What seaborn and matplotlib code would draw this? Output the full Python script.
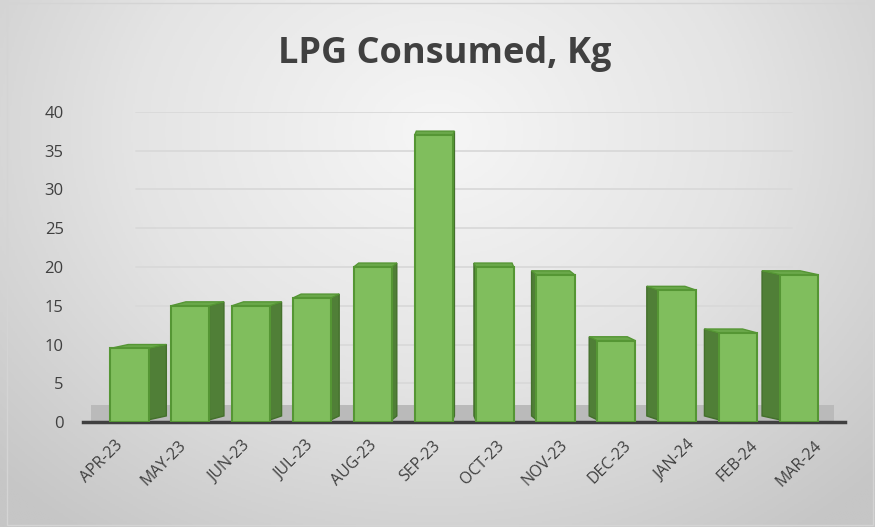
import numpy as np
import pandas as pd
import matplotlib
matplotlib.use("Agg")
import matplotlib.pyplot as plt
from matplotlib.patches import Polygon
from matplotlib.colors import LinearSegmentedColormap
import seaborn as sns

# data
months = ["APR-23", "MAY-23", "JUN-23", "JUL-23", "AUG-23", "SEP-23",
          "OCT-23", "NOV-23", "DEC-23", "JAN-24", "FEB-24", "MAR-24"]
lpg_kg = [9.5, 15, 15, 16, 20, 37, 20, 19, 10.5, 17, 11.5, 19]
y_ticks = [0, 5, 10, 15, 20, 25, 30, 35, 40]

df = pd.DataFrame({"Month": months, "LPG": lpg_kg})

sns.set_theme(style="white")
plt.rcParams["font.family"] = ["Open Sans", "DejaVu Sans"]

fig = plt.figure(figsize=(8.75, 5.27), dpi=100)

# radial grey background like the Excel chart area
bg = fig.add_axes([0, 0, 1, 1], zorder=-10)
yy, xx = np.mgrid[0:1:300j, 0:1:500j]
r = np.sqrt(((xx - 0.5) / 0.7) ** 2 + ((yy - 0.25) / 0.95) ** 2)
grey = LinearSegmentedColormap.from_list("bg", ["#f6f6f6", "#e4e4e4", "#c6c6c6"])
bg.imshow(np.clip(r, 0, 1), cmap=grey, vmin=0, vmax=1,
          extent=[0, 1, 0, 1], aspect="auto", origin="upper")
bg.set_axis_off()
fig.patches.append(plt.Rectangle((0.008, 0.004), 0.99, 0.99, transform=fig.transFigure,
                                 fill=False, edgecolor="#d4d4d4", lw=1))

ax = fig.add_axes([0.095, 0.199, 0.871, 0.589])
ax.patch.set_alpha(0)

sns.barplot(data=df, x="Month", y="LPG", ax=ax, color="#80be5d",
            width=0.6, edgecolor="#559634", linewidth=1.5, saturation=1, zorder=3)
bars = list(ax.containers[0])

# floor of the 3D plot
ax.axhspan(0.2, 2.2, xmin=0.01, xmax=0.985, color="#bababa", zorder=0.5, lw=0)

# perspective: outer bars drift toward the middle, with darker side and top faces
n = len(months)
for i, p in enumerate(bars):
    k = (n / 2 - 0.5 - i) / (n / 2 - 0.5)
    p.set_x(p.get_x() + 0.23 * k)
    x0, w, h = p.get_x(), p.get_width(), p.get_height()
    dx = 0.28 * k
    dy = 0.5
    edge = x0 + w if dx > 0 else x0
    side = Polygon([(edge, 0.3), (edge, h), (edge + dx, h + dy), (edge + dx, 0.3 + dy)],
                   closed=True, facecolor="#507f37", edgecolor="#44702c", lw=1, zorder=2.5)
    ax.add_patch(side)
    top = Polygon([(x0, h), (x0 + w, h), (x0 + w + dx, h + dy), (x0 + dx, h + dy)],
                  closed=True, facecolor="#6aa84a", edgecolor="#559634", lw=1, zorder=2.6)
    ax.add_patch(top)

ax.set_ylim(0, 40)
ax.set_xlim(-0.5, n - 0.5)
ax.set_yticks(y_ticks)
ax.yaxis.grid(False)
for t in y_ticks[1:]:
    ax.axhline(t, xmin=0.07, xmax=0.93, color="#d9d9d9", lw=1.3, zorder=1)
for s in ["top", "right", "left"]:
    ax.spines[s].set_visible(False)
ax.spines["bottom"].set_color("#404040")
ax.spines["bottom"].set_linewidth(2.5)

ax.set_xlabel("")
ax.set_ylabel("")
ax.tick_params(axis="y", length=0, labelsize=12, labelcolor="#404040", pad=14)
ax.tick_params(axis="x", which="major", length=0, labelsize=11.5, labelcolor="#404040", pad=11)
ax.set_xticks(np.arange(-0.5, n, 1.0), minor=True)
ax.tick_params(axis="x", which="minor", length=7, width=2.5, color="#404040", direction="out")
for lbl in ax.get_xticklabels():
    lbl.set_rotation(45)
    lbl.set_ha("right")
    lbl.set_rotation_mode("anchor")

fig.text(0.508, 0.880, "LPG Consumed, Kg", ha="center", va="baseline",
         fontsize=26, fontweight="bold", color="#404040")

fig.savefig("out.png", dpi=100)
